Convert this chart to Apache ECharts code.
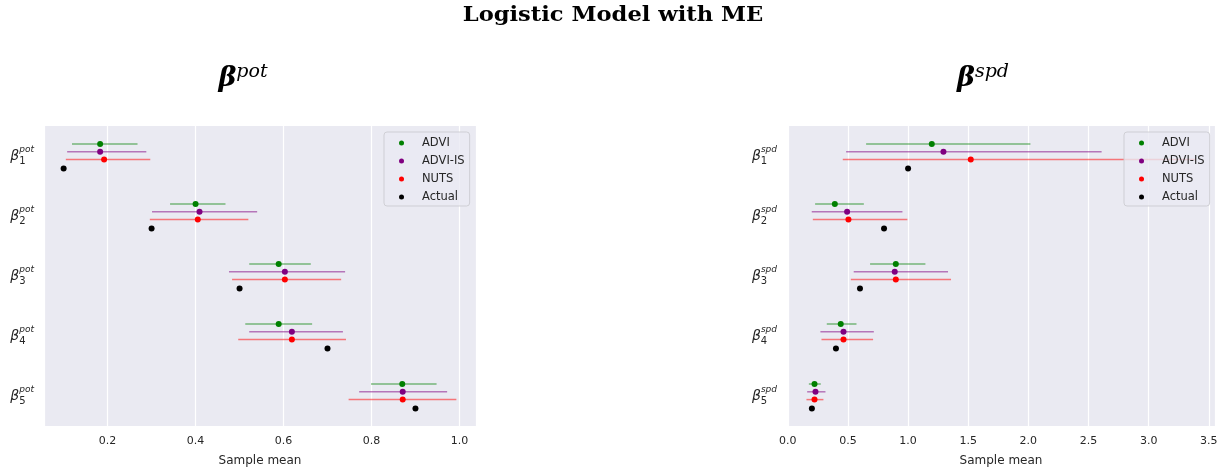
<!DOCTYPE html>
<html>
<head>
<meta charset="utf-8">
<script src="https://cdn.jsdelivr.net/npm/echarts@6/dist/echarts.min.js"></script>
<style>
  html, body { margin: 0; padding: 0; background: #ffffff; }
  #chart { width: 1225px; height: 472px; }
</style>
</head>
<body>
<div id="chart"></div>
<script>
// Coefficient indices (subscripts of the y tick labels)
const coefIdx = ['1', '2', '3', '4', '5'];
const methods = ['ADVI', 'ADVI-IS', 'NUTS', 'Actual'];

// beta^pot : posterior sample means with interval bounds
const adviPotMean  = [0.183, 0.400, 0.589, 0.589, 0.870];
const adviPotLo    = [0.119, 0.342, 0.522, 0.513, 0.799];
const adviPotHi    = [0.268, 0.468, 0.662, 0.665, 0.948];
const advisPotMean = [0.183, 0.409, 0.603, 0.619, 0.871];
const advisPotLo   = [0.108, 0.301, 0.476, 0.522, 0.772];
const advisPotHi   = [0.288, 0.540, 0.740, 0.735, 0.972];
const nutsPotMean  = [0.192, 0.405, 0.603, 0.619, 0.871];
const nutsPotLo    = [0.105, 0.296, 0.483, 0.497, 0.748];
const nutsPotHi    = [0.297, 0.520, 0.731, 0.742, 0.993];
const actualPot    = [0.1, 0.3, 0.5, 0.7, 0.9];

// beta^spd
const adviSpdMean  = [1.197, 0.391, 0.898, 0.440, 0.222];
const adviSpdLo    = [0.651, 0.227, 0.684, 0.324, 0.175];
const adviSpdHi    = [2.017, 0.632, 1.144, 0.571, 0.274];
const advisSpdMean = [1.294, 0.493, 0.889, 0.463, 0.230];
const advisSpdLo   = [0.485, 0.199, 0.548, 0.271, 0.161];
const advisSpdHi   = [2.609, 0.953, 1.332, 0.715, 0.313];
const nutsSpdMean  = [1.521, 0.504, 0.898, 0.463, 0.222];
const nutsSpdLo    = [0.457, 0.208, 0.524, 0.280, 0.155];
const nutsSpdHi    = [3.390, 0.994, 1.357, 0.709, 0.296];
const actualSpd    = [1.0, 0.8, 0.6, 0.4, 0.2];

// ---- styling ----
const COLORS = { 'ADVI': '#008000', 'ADVI-IS': '#800080', 'NUTS': '#ff0000', 'Actual': '#000000' };
const LINE_COLORS = { 'ADVI': 'rgba(0,128,0,0.5)', 'ADVI-IS': 'rgba(128,0,128,0.5)', 'NUTS': 'rgba(255,0,0,0.5)' };
// vertical offset of each method inside a coefficient group
const OFFSETS = { 'ADVI': 0, 'ADVI-IS': 0.13, 'NUTS': 0.26, 'Actual': 0.41 };
const LABEL_OFFSET = 0.2;
const TEXT = '#262626';
const SANS = 'DejaVu Sans';
const SERIF = 'DejaVu Serif';

function errorSeries(name, mean, lo, hi, axis) {
  const color = COLORS[name];
  const lineColor = LINE_COLORS[name];
  return {
    type: 'custom',
    name: name,
    xAxisIndex: axis,
    yAxisIndex: axis,
    itemStyle: { color: color },
    encode: { x: [0, 1, 2], y: 3 },
    data: mean.map((m, i) => [m, lo[i], hi[i], i + OFFSETS[name]]),
    renderItem: function (params, api) {
      const y = api.value(3);
      const a = api.coord([api.value(1), y]);
      const b = api.coord([api.value(2), y]);
      const c = api.coord([api.value(0), y]);
      return {
        type: 'group',
        children: [
          { type: 'line', shape: { x1: a[0], y1: a[1], x2: b[0], y2: b[1] },
            style: { stroke: lineColor, lineWidth: 1.5 } },
          { type: 'circle', shape: { cx: c[0], cy: c[1], r: 3 }, style: { fill: color } }
        ]
      };
    }
  };
}

function actualSeries(values, axis) {
  return {
    type: 'scatter',
    name: 'Actual',
    xAxisIndex: axis,
    yAxisIndex: axis,
    symbol: 'circle',
    symbolSize: 6,
    itemStyle: { color: COLORS['Actual'], opacity: 1 },
    data: values.map((v, i) => [v, i + OFFSETS['Actual']])
  };
}

// matplotlib-like 5% data margins
const padMin = v => v.min - 0.05 * (v.max - v.min);
const padMax = v => v.max + 0.05 * (v.max - v.min);

function xAxis(grid, splitNumber) {
  return {
    type: 'value',
    gridIndex: grid,
    min: padMin,
    max: padMax,
    splitNumber: splitNumber,
    axisLine: { show: false },
    axisTick: { show: false },
    splitLine: { show: true, lineStyle: { color: '#ffffff', width: 1.2 } },
    axisLabel: {
      showMinLabel: false, showMaxLabel: false, margin: 10,
      color: TEXT, fontFamily: SANS, fontSize: 11,
      formatter: v => v.toFixed(1)
    },
    name: 'Sample mean',
    nameLocation: 'middle',
    nameGap: 29,
    nameTextStyle: { color: TEXT, fontFamily: SANS, fontSize: 12 }
  };
}

function betaLabel(sup) {
  return function (v) {
    const k = Math.round(v - LABEL_OFFSET);
    if (Math.abs(v - LABEL_OFFSET - k) > 1e-6 || k < 0 || k >= coefIdx.length) return '';
    return '{g| }{sup|' + sup + '}\n{b|β}{sub|' + coefIdx[k] + '}{sp| }';
  };
}

const labelRich = {
  g: { width: 9, fontSize: 4, lineHeight: 4, align: 'left' },
  sup: { fontSize: 9, fontStyle: 'italic', fontFamily: SANS, color: TEXT, lineHeight: 4, verticalAlign: 'top', align: 'left' },
  b: { fontSize: 14, fontStyle: 'italic', fontFamily: SANS, color: TEXT, lineHeight: 12, verticalAlign: 'top', align: 'left' },
  sub: { fontSize: 10, fontFamily: SANS, color: TEXT, lineHeight: 12, verticalAlign: 'bottom', align: 'left' },
  sp: { width: 0, fontSize: 4, lineHeight: 17, align: 'left' }
};

function yAxis(grid, sup) {
  return {
    type: 'value',
    gridIndex: grid,
    inverse: true,
    min: -0.3,
    max: 4.7,
    interval: 0.5,
    axisLine: { show: false },
    axisTick: { show: false },
    splitLine: { show: false },
    axisLabel: { formatter: betaLabel(sup), rich: labelRich, margin: 10 }
  };
}

function legend(left) {
  return {
    orient: 'vertical',
    left: left,
    top: 132,
    data: methods.map(n => ({ name: n, icon: 'circle' })),
    itemWidth: 5,
    itemHeight: 5,
    itemGap: 4,
    padding: [4, 5, 2, 15],
    backgroundColor: 'rgba(234,234,242,0.8)',
    borderColor: 'rgba(204,204,210,0.9)',
    borderWidth: 1,
    borderRadius: 3,
    selectedMode: false,
    textStyle: { color: TEXT, fontFamily: SANS, fontSize: 11.5, lineHeight: 14, padding: [0, 0, 0, 13] }
  };
}

function panelTitle(x, sup) {
  return {
    type: 'text',
    x: x,
    y: 79,
    style: {
      text: '{b|β}{s|' + sup + '}',
      align: 'center',
      verticalAlign: 'middle',
      rich: {
        b: { fontFamily: SERIF, fontWeight: 'bold', fontStyle: 'italic', fontSize: 27, lineHeight: 32, fill: '#000' },
        s: { fontFamily: SERIF, fontStyle: 'italic', fontSize: 19, lineHeight: 14, verticalAlign: 'top', fill: '#000' }
      }
    }
  };
}

const chart = echarts.init(document.getElementById('chart'), null, { renderer: 'canvas' });
chart.setOption({
  backgroundColor: '#ffffff',
  animation: false,
  graphic: [
    { type: 'text', x: 613, y: 16, scaleX: 1.13,
      style: { text: 'Logistic Model with ME', align: 'center', verticalAlign: 'middle',
               fontFamily: SERIF, fontWeight: 'bold', fontSize: 20, fill: '#000' } },
    panelTitle(243, 'pot'),
    panelTitle(983, 'spd')
  ],
  grid: [
    { left: 44, right: 749, top: 126, bottom: 44, show: true, backgroundColor: '#EAEAF2', borderWidth: 0 },
    { left: 787, right: 10, top: 126, bottom: 44, show: true, backgroundColor: '#EAEAF2', borderWidth: 0 }
  ],
  xAxis: [xAxis(0, 5), xAxis(1, 8)],
  yAxis: [yAxis(0, 'pot'), yAxis(1, 'spd')],
  legend: [legend(384), legend(1124)],
  series: [
    errorSeries('ADVI', adviPotMean, adviPotLo, adviPotHi, 0),
    errorSeries('ADVI-IS', advisPotMean, advisPotLo, advisPotHi, 0),
    errorSeries('NUTS', nutsPotMean, nutsPotLo, nutsPotHi, 0),
    actualSeries(actualPot, 0),
    errorSeries('ADVI', adviSpdMean, adviSpdLo, adviSpdHi, 1),
    errorSeries('ADVI-IS', advisSpdMean, advisSpdLo, advisSpdHi, 1),
    errorSeries('NUTS', nutsSpdMean, nutsSpdLo, nutsSpdHi, 1),
    actualSeries(actualSpd, 1)
  ]
});
</script>
</body>
</html>
